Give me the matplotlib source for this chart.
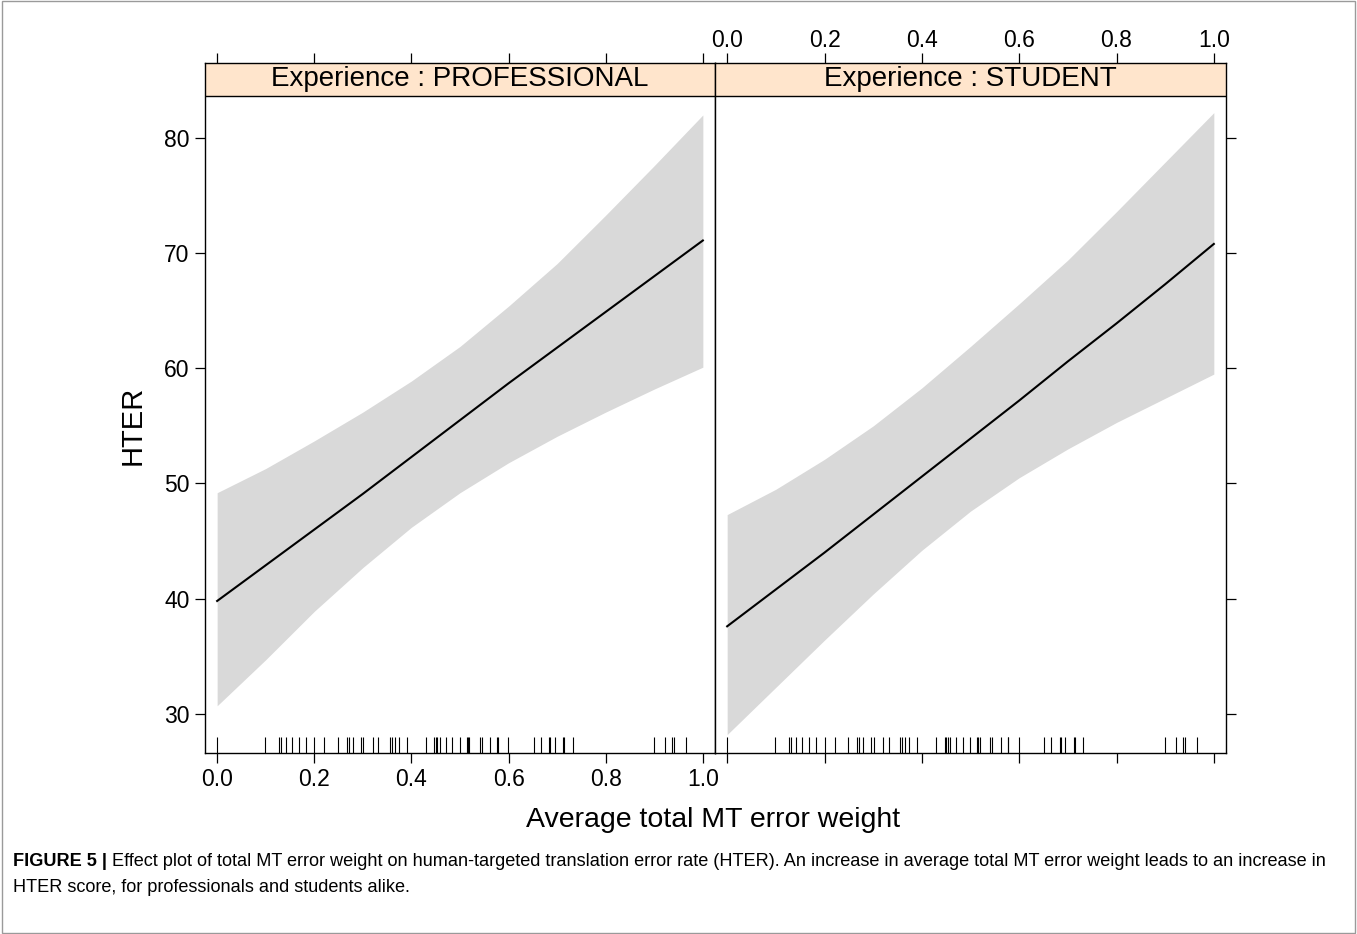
import matplotlib
matplotlib.use("Agg")
import matplotlib.pyplot as plt
from matplotlib.patches import Rectangle
import matplotlib.transforms as mtransforms

plt.rcParams['font.family'] = ['Liberation Sans', 'DejaVu Sans']

# data
weight = [0.0, 0.1, 0.2, 0.3, 0.4, 0.5, 0.6, 0.7, 0.8, 0.9, 1.0]

prof_fit = [39.8, 42.9, 46.0, 49.1, 52.3, 55.5, 58.7, 61.8, 64.9, 68.0, 71.1]
prof_upper = [49.2, 51.3, 53.7, 56.2, 58.9, 61.9, 65.4, 69.1, 73.3, 77.6, 82.0]
prof_lower = [30.7, 34.7, 38.9, 42.7, 46.2, 49.2, 51.8, 54.1, 56.2, 58.2, 60.1]

stud_fit = [37.6, 40.8, 44.0, 47.3, 50.6, 53.9, 57.2, 60.6, 63.9, 67.3, 70.8]
stud_upper = [47.3, 49.5, 52.1, 55.0, 58.3, 61.9, 65.6, 69.4, 73.6, 77.9, 82.2]
stud_lower = [28.2, 32.3, 36.4, 40.4, 44.2, 47.6, 50.5, 53.0, 55.3, 57.4, 59.5]

rug_x = [0.0, 0.099, 0.128, 0.132, 0.142, 0.154, 0.168, 0.182, 0.200, 0.221,
         0.249, 0.267, 0.271, 0.280, 0.296, 0.301, 0.320, 0.332, 0.356, 0.360,
         0.366, 0.374, 0.390, 0.429, 0.447, 0.450, 0.453, 0.458, 0.471, 0.484,
         0.499, 0.514, 0.516, 0.519, 0.541, 0.545, 0.562, 0.577, 0.578, 0.599,
         0.652, 0.666, 0.683, 0.685, 0.695, 0.713, 0.714, 0.732, 0.900, 0.922,
         0.937, 0.940, 0.966]

panels = ["PROFESSIONAL", "STUDENT"]
xticks = [0.0, 0.2, 0.4, 0.6, 0.8, 1.0]
yticks = [30, 40, 50, 60, 70, 80]

W, H = 1357, 934
fig = plt.figure(figsize=(W / 100, H / 100), dpi=100)

# frame round the whole figure
fig.patches.append(Rectangle((0.0015, 0.0015), 0.997, 0.997, transform=fig.transFigure,
                             fill=False, edgecolor='#9a9a9a', linewidth=1))

def px(x0, y0, x1, y1):
    return [x0 / W, 1 - y1 / H, (x1 - x0) / W, (y1 - y0) / H]

strip_frac = (753 - 96) / (753 - 63)
ylo = 26.6
yhi = 80 + (138 - 63) / 11.52

series = [(prof_fit, prof_upper, prof_lower), (stud_fit, stud_upper, stud_lower)]
boxes = [px(205, 63, 715, 753), px(715, 63, 1226, 753)]

for i, (name, (fit, up, lo), box) in enumerate(zip(panels, series, boxes)):
    ax = fig.add_axes(box)
    ax.fill_between(weight, lo, up, color='#d9d9d9', linewidth=0)
    ax.plot(weight, fit, color='black', linewidth=1.5)
    ax.vlines(rug_x, 0, 0.023, color='black', linewidth=0.8,
              transform=mtransforms.blended_transform_factory(ax.transData, ax.transAxes))
    ax.set_xlim(-0.025, 1.025)
    ax.set_ylim(ylo, yhi)

    # strip
    ax.add_patch(Rectangle((0, strip_frac), 1, 1 - strip_frac, transform=ax.transAxes,
                           facecolor='#ffe5cc', edgecolor='none', zorder=3))
    ax.axhline(y=yhi - (yhi - ylo) * (1 - strip_frac), color='black', linewidth=1, zorder=4)
    ax.text(0.5, (1 + strip_frac) / 2, "Experience : " + name, transform=ax.transAxes,
            ha='center', va='center', fontsize=20, zorder=5)

    for s in ax.spines.values():
        s.set_linewidth(1)
        s.set_zorder(6)

    ax.set_xticks(xticks)
    ax.set_xticklabels(["%.1f" % t for t in xticks])
    ax.set_yticks(yticks)
    ax.tick_params(direction='out', length=7, width=0.9, labelsize=16.5, pad=4)
    if i == 0:
        ax.tick_params(axis='x', top=True, bottom=True, labeltop=False, labelbottom=True)
        ax.tick_params(axis='y', left=True, right=False, labelleft=True)
    else:
        ax.tick_params(axis='x', top=True, bottom=True, labeltop=True, labelbottom=False, pad=1)
        ax.tick_params(axis='y', left=False, right=True, labelleft=False, labelright=False)

fig.text(133 / W, 1 - 425 / H, "HTER", rotation=90, ha='center', va='center', fontsize=21)
fig.text(713 / W, 1 - 820 / H, "Average total MT error weight", ha='center', va='center', fontsize=20.5)

t1 = fig.text(13 / W, 1 - 862 / H, "FIGURE 5 |", fontsize=13.1, fontweight='bold', va='center')
cap = ("Effect plot of total MT error weight on human-targeted translation error rate (HTER). "
       "An increase in average total MT error weight leads to an increase in")
fig.add_artist(matplotlib.text.Annotation(" " + cap, xy=(1, 0.5), xycoords=t1, va='center',
                                          fontsize=13.1))
fig.text(13 / W, 1 - 887 / H, "HTER score, for professionals and students alike.",
         fontsize=13.1, va='center')

fig.savefig("out.png", dpi=100)
